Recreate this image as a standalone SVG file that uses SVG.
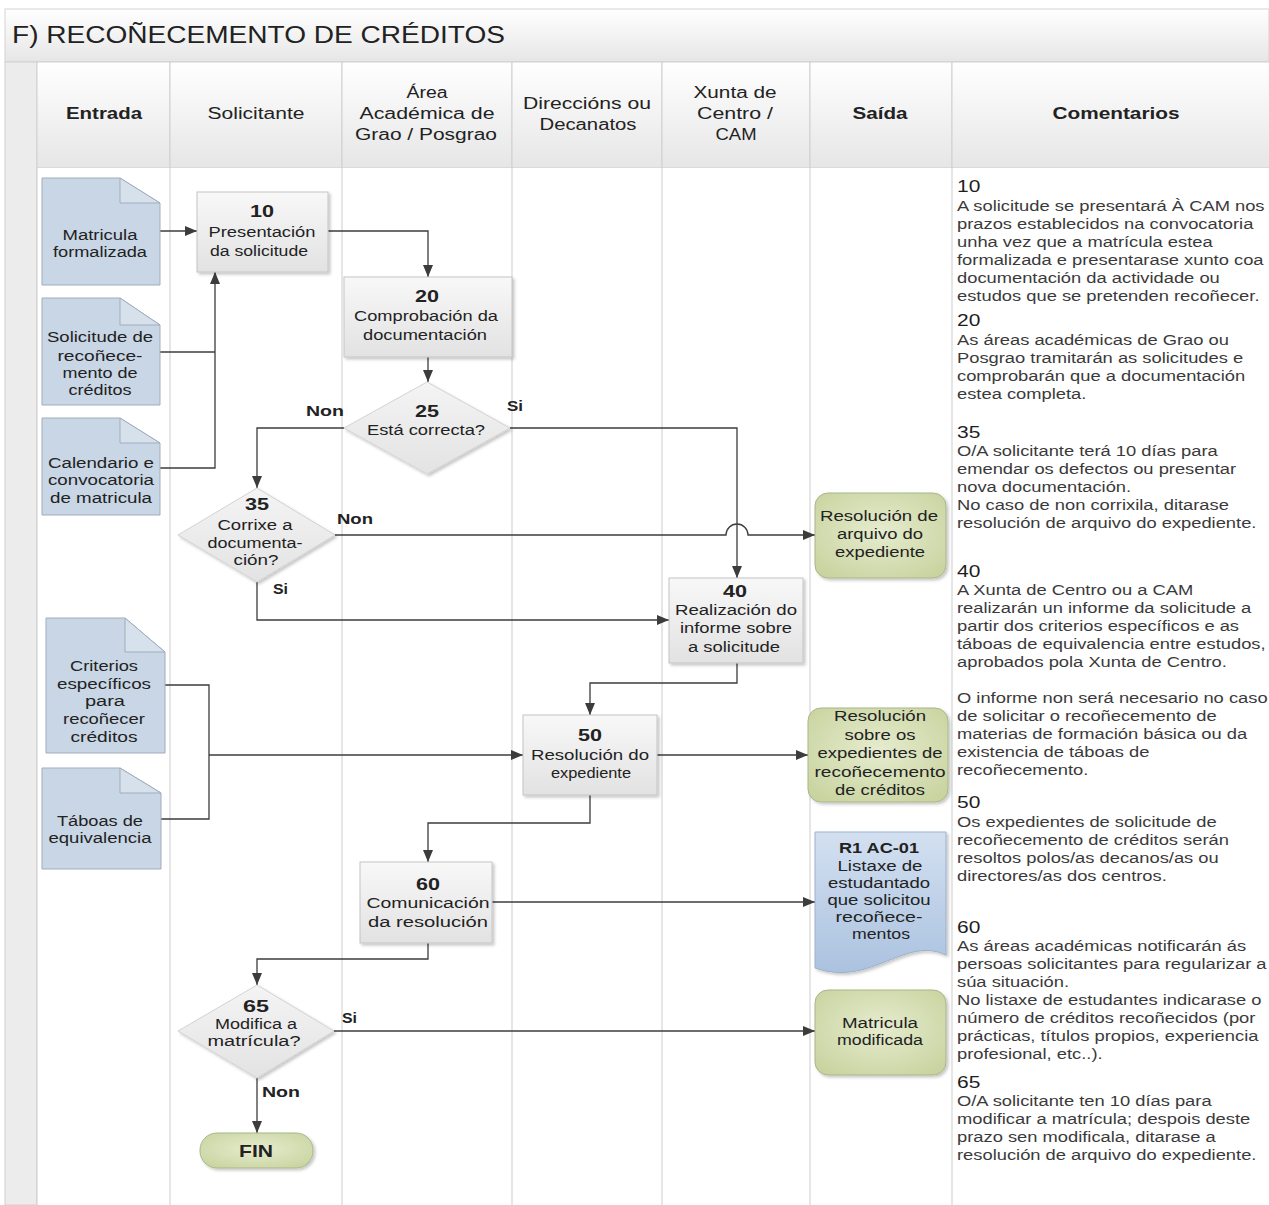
<svg xmlns="http://www.w3.org/2000/svg" width="1269" height="1205" viewBox="0 0 1269 1205">
<defs>
<linearGradient id="gHead" x1="0" y1="0" x2="0" y2="1"><stop offset="0" stop-color="#ffffff"/><stop offset="1" stop-color="#e6e6e6"/></linearGradient>
<linearGradient id="gProc" x1="0" y1="0" x2="0" y2="1"><stop offset="0" stop-color="#f8f8f8"/><stop offset="1" stop-color="#e2e2e2"/></linearGradient>
<linearGradient id="gDec" x1="0" y1="0" x2="0" y2="1"><stop offset="0" stop-color="#f4f4f4"/><stop offset="1" stop-color="#e3e3e3"/></linearGradient>
<radialGradient id="gGreen" cx="0.5" cy="0.45" r="0.7"><stop offset="0" stop-color="#e6ecce"/><stop offset="1" stop-color="#c7d29d"/></radialGradient>
<linearGradient id="gBlue" x1="0" y1="0" x2="0" y2="1"><stop offset="0" stop-color="#d3e0f1"/><stop offset="1" stop-color="#abc2df"/></linearGradient>
<filter id="sh" x="-10%" y="-10%" width="130%" height="130%"><feDropShadow dx="2" dy="2" stdDeviation="1.5" flood-color="#000" flood-opacity="0.22"/></filter>
<marker id="ar" markerUnits="userSpaceOnUse" markerWidth="12" markerHeight="10" refX="12" refY="5" orient="auto"><path d="M0,0 L12,5 L0,10 Z" fill="#3c3c3c"/></marker>
</defs>
<style>
text{font-family:"Liberation Sans",Arial,sans-serif;fill:#222}
.h{font-size:16px;text-anchor:middle}
.hb{font-size:16px;text-anchor:middle;font-weight:bold}
.n{font-size:14px;text-anchor:middle}
.nb{font-size:17px;text-anchor:middle;font-weight:bold}
.lb{font-size:15px;font-weight:bold}
.c{font-size:14px;fill:#3a3a3a}
.cn{font-size:16px;fill:#1e1e1e}
.lane{stroke:#cdcdcd;stroke-width:1;fill:none}
.hcell{fill:url(#gHead);stroke:#cfcfcf;stroke-width:1}
.doc{fill:#c8d6e5;stroke:#9fadbd;stroke-width:1}
.fold{fill:#d7e1ec;stroke:#9fadbd;stroke-width:1}
.proc{fill:url(#gProc);stroke:#c4c4c4;stroke-width:1;filter:url(#sh)}
.dec{fill:url(#gDec);stroke:#d2d2d2;stroke-width:1;filter:url(#sh)}
.out{fill:url(#gGreen);stroke:#a9b68a;stroke-width:1;filter:url(#sh)}
.rdoc{fill:url(#gBlue);stroke:#9db1ca;stroke-width:1;filter:url(#sh)}
.cn1{fill:none;stroke:#3c3c3c;stroke-width:1.3}
</style>
<rect x="0" y="0" width="1269" height="1205" fill="#ffffff"/>
<g id="frame">
<rect x="5" y="9" width="1264" height="53" fill="url(#gHead)" stroke="#d4d4d4"/>
<text x="12" y="43" style="font-size:23px" textLength="493" lengthAdjust="spacingAndGlyphs">F) RECOÑECEMENTO DE CRÉDITOS</text>
<rect x="5" y="62" width="32" height="1143" fill="#ececec" stroke="#d0d0d0"/>
<rect class="hcell" x="37" y="62" width="133" height="106"/>
<rect class="hcell" x="170" y="62" width="172" height="106"/>
<rect class="hcell" x="342" y="62" width="170" height="106"/>
<rect class="hcell" x="512" y="62" width="150" height="106"/>
<rect class="hcell" x="662" y="62" width="148" height="106"/>
<rect class="hcell" x="810" y="62" width="142" height="106"/>
<rect class="hcell" x="952" y="62" width="320" height="106"/>
<rect x="37" y="168" width="1235" height="1040" fill="#ffffff" stroke="none"/>
<path class="lane" d="M37,168 V1205 M170,168 V1205 M342,168 V1205 M512,168 V1205 M662,168 V1205 M810,168 V1205 M952,168 V1205"/>
<text class="hb" x="104" y="119" textLength="76" lengthAdjust="spacingAndGlyphs">Entrada</text>
<text class="h" x="256" y="119" textLength="97" lengthAdjust="spacingAndGlyphs">Solicitante</text>
<text class="h" x="427" y="98" textLength="41" lengthAdjust="spacingAndGlyphs">Área</text>
<text class="h" x="427" y="119" textLength="135" lengthAdjust="spacingAndGlyphs">Académica de</text>
<text class="h" x="426" y="140" textLength="142" lengthAdjust="spacingAndGlyphs">Grao / Posgrao</text>
<text class="h" x="587" y="109" textLength="128" lengthAdjust="spacingAndGlyphs">Direccións ou</text>
<text class="h" x="588" y="130" textLength="97" lengthAdjust="spacingAndGlyphs">Decanatos</text>
<text class="h" x="735" y="98" textLength="83" lengthAdjust="spacingAndGlyphs">Xunta de</text>
<text class="h" x="735" y="119" textLength="76" lengthAdjust="spacingAndGlyphs">Centro /</text>
<text class="h" x="736" y="140" textLength="41" lengthAdjust="spacingAndGlyphs">CAM</text>
<text class="hb" x="880" y="119" textLength="55" lengthAdjust="spacingAndGlyphs">Saída</text>
<text class="hb" x="1116" y="119" textLength="127" lengthAdjust="spacingAndGlyphs">Comentarios</text>
</g>
<g id="connectors">
<path class="cn1" d="M160,231 H197" marker-end="url(#ar)"/>
<path class="cn1" d="M160,352 H215"/>
<path class="cn1" d="M160,468 H215 V272" marker-end="url(#ar)"/>
<path class="cn1" d="M328,231 H428 V277" marker-end="url(#ar)"/>
<path class="cn1" d="M428,357 V382" marker-end="url(#ar)"/>
<path class="cn1" d="M344,428 H257 V488" marker-end="url(#ar)"/>
<path class="cn1" d="M510,428 H737 V578" marker-end="url(#ar)"/>
<path class="cn1" d="M335,535 H726 A11,11 0 0 1 748,535 H815" marker-end="url(#ar)"/>
<path class="cn1" d="M257,582 V620 H669" marker-end="url(#ar)"/>
<path class="cn1" d="M737,663 V683 H590 V715" marker-end="url(#ar)"/>
<path class="cn1" d="M165,685 H209 V819 H160"/>
<path class="cn1" d="M209,755 H523" marker-end="url(#ar)"/>
<path class="cn1" d="M657,755 H808" marker-end="url(#ar)"/>
<path class="cn1" d="M590,795 V823 H428 V862" marker-end="url(#ar)"/>
<path class="cn1" d="M492,902 H815" marker-end="url(#ar)"/>
<path class="cn1" d="M428,943 V959 H257 V985" marker-end="url(#ar)"/>
<path class="cn1" d="M334,1031 H815" marker-end="url(#ar)"/>
<path class="cn1" d="M257,1078 V1133" marker-end="url(#ar)"/>
<text class="lb" x="306" y="416" textLength="38" lengthAdjust="spacingAndGlyphs">Non</text>
<text class="lb" x="507" y="411" textLength="16" lengthAdjust="spacingAndGlyphs">Si</text>
<text class="lb" x="337" y="524" textLength="36" lengthAdjust="spacingAndGlyphs">Non</text>
<text class="lb" x="273" y="594" textLength="15" lengthAdjust="spacingAndGlyphs">Si</text>
<text class="lb" x="342" y="1023" textLength="15" lengthAdjust="spacingAndGlyphs">Si</text>
<text class="lb" x="262" y="1097" textLength="38" lengthAdjust="spacingAndGlyphs">Non</text>
</g>
<g id="in-matricula">
<path class="doc" d="M42,178 H120 L160,203 V285 H42 Z"/><path class="fold" d="M120,178 V203 H160 Z"/>
<text class="n" x="100" y="240" textLength="75" lengthAdjust="spacingAndGlyphs">Matricula</text>
<text class="n" x="100" y="257" textLength="94" lengthAdjust="spacingAndGlyphs">formalizada</text>
</g>
<g id="in-solicitude">
<path class="doc" d="M42,298 H120 L160,325 V405 H42 Z"/><path class="fold" d="M120,298 V325 H160 Z"/>
<text class="n" x="100" y="342" textLength="106" lengthAdjust="spacingAndGlyphs">Solicitude de</text>
<text class="n" x="100" y="361" textLength="85" lengthAdjust="spacingAndGlyphs">recoñece-</text>
<text class="n" x="100" y="378" textLength="75" lengthAdjust="spacingAndGlyphs">mento de</text>
<text class="n" x="100" y="395" textLength="63" lengthAdjust="spacingAndGlyphs">créditos</text>
</g>
<g id="in-calendario">
<path class="doc" d="M42,418 H120 L160,443 V515 H42 Z"/><path class="fold" d="M120,418 V443 H160 Z"/>
<text class="n" x="101" y="468" textLength="106" lengthAdjust="spacingAndGlyphs">Calendario e</text>
<text class="n" x="101" y="485" textLength="106" lengthAdjust="spacingAndGlyphs">convocatoria</text>
<text class="n" x="101" y="503" textLength="102" lengthAdjust="spacingAndGlyphs">de matricula</text>
</g>
<g id="in-criterios">
<path class="doc" d="M46,618 H125 L165,652 V753 H46 Z"/><path class="fold" d="M125,618 V652 H165 Z"/>
<text class="n" x="104" y="671" textLength="68" lengthAdjust="spacingAndGlyphs">Criterios</text>
<text class="n" x="104" y="689" textLength="94" lengthAdjust="spacingAndGlyphs">específicos</text>
<text class="n" x="105" y="706" textLength="40" lengthAdjust="spacingAndGlyphs">para</text>
<text class="n" x="104" y="724" textLength="82" lengthAdjust="spacingAndGlyphs">recoñecer</text>
<text class="n" x="104" y="742" textLength="67" lengthAdjust="spacingAndGlyphs">créditos</text>
</g>
<g id="in-taboas">
<path class="doc" d="M42,768 H120 L161,793 V869 H42 Z"/><path class="fold" d="M120,768 V793 H161 Z"/>
<text class="n" x="100" y="826" textLength="86" lengthAdjust="spacingAndGlyphs">Táboas de</text>
<text class="n" x="100" y="843" textLength="103" lengthAdjust="spacingAndGlyphs">equivalencia</text>
</g>
<g id="p10">
<rect class="proc" x="197" y="192" width="131" height="80"/>
<text class="nb" x="262" y="217" textLength="24" lengthAdjust="spacingAndGlyphs">10</text>
<text class="n" x="262" y="237" textLength="107" lengthAdjust="spacingAndGlyphs">Presentación</text>
<text class="n" x="259" y="256" textLength="98" lengthAdjust="spacingAndGlyphs">da solicitude</text>
</g>
<g id="p20">
<rect class="proc" x="344" y="277" width="168" height="80"/>
<text class="nb" x="427" y="302" textLength="24" lengthAdjust="spacingAndGlyphs">20</text>
<text class="n" x="426" y="321" textLength="144" lengthAdjust="spacingAndGlyphs">Comprobación da</text>
<text class="n" x="425" y="340" textLength="124" lengthAdjust="spacingAndGlyphs">documentación</text>
</g>
<g id="d25">
<polygon class="dec" points="427,382 510,428 427,474 344,428"/>
<text class="nb" x="427" y="417" textLength="24" lengthAdjust="spacingAndGlyphs">25</text>
<text class="n" x="426" y="435" textLength="118" lengthAdjust="spacingAndGlyphs">Está correcta?</text>
</g>
<g id="d35">
<polygon class="dec" points="257,488 335,535 257,582 178,535"/>
<text class="nb" x="257" y="510" textLength="24" lengthAdjust="spacingAndGlyphs">35</text>
<text class="n" x="255" y="530" textLength="75" lengthAdjust="spacingAndGlyphs">Corrixe a</text>
<text class="n" x="255" y="548" textLength="95" lengthAdjust="spacingAndGlyphs">documenta-</text>
<text class="n" x="256" y="565" textLength="45" lengthAdjust="spacingAndGlyphs">ción?</text>
</g>
<g id="p40">
<rect class="proc" x="669" y="578" width="134" height="85"/>
<text class="nb" x="735" y="597" textLength="24" lengthAdjust="spacingAndGlyphs">40</text>
<text class="n" x="736" y="615" textLength="122" lengthAdjust="spacingAndGlyphs">Realización do</text>
<text class="n" x="736" y="633" textLength="112" lengthAdjust="spacingAndGlyphs">informe sobre</text>
<text class="n" x="734" y="652" textLength="92" lengthAdjust="spacingAndGlyphs">a solicitude</text>
</g>
<g id="p50">
<rect class="proc" x="523" y="715" width="134" height="80"/>
<text class="nb" x="590" y="741" textLength="24" lengthAdjust="spacingAndGlyphs">50</text>
<text class="n" x="590" y="760" textLength="118" lengthAdjust="spacingAndGlyphs">Resolución do</text>
<text class="n" x="591" y="778" textLength="80" lengthAdjust="spacingAndGlyphs">expediente</text>
</g>
<g id="p60">
<rect class="proc" x="360" y="862" width="132" height="81"/>
<text class="nb" x="428" y="890" textLength="24" lengthAdjust="spacingAndGlyphs">60</text>
<text class="n" x="428" y="908" textLength="123" lengthAdjust="spacingAndGlyphs">Comunicación</text>
<text class="n" x="428" y="927" textLength="120" lengthAdjust="spacingAndGlyphs">da resolución</text>
</g>
<g id="d65">
<polygon class="dec" points="257,985 334,1031 257,1078 178,1031"/>
<text class="nb" x="256" y="1012" textLength="26" lengthAdjust="spacingAndGlyphs">65</text>
<text class="n" x="256" y="1029" textLength="82" lengthAdjust="spacingAndGlyphs">Modifica a</text>
<text class="n" x="254" y="1046" textLength="93" lengthAdjust="spacingAndGlyphs">matrícula?</text>
</g>
<g id="fin">
<rect class="out" x="200" y="1133" width="113" height="35" rx="17" ry="17"/>
<text class="nb" x="256" y="1157" textLength="34" lengthAdjust="spacingAndGlyphs">FIN</text>
</g>
<g id="out-arquivo">
<rect class="out" x="815" y="493" width="131" height="85" rx="13" ry="13"/>
<text class="n" x="879" y="521" textLength="118" lengthAdjust="spacingAndGlyphs">Resolución de</text>
<text class="n" x="880" y="539" textLength="86" lengthAdjust="spacingAndGlyphs">arquivo do</text>
<text class="n" x="880" y="557" textLength="90" lengthAdjust="spacingAndGlyphs">expediente</text>
</g>
<g id="out-resolucion">
<rect class="out" x="808" y="708" width="140" height="94" rx="13" ry="13"/>
<text class="n" x="880" y="721" textLength="92" lengthAdjust="spacingAndGlyphs">Resolución</text>
<text class="n" x="880" y="740" textLength="71" lengthAdjust="spacingAndGlyphs">sobre os</text>
<text class="n" x="880" y="758" textLength="125" lengthAdjust="spacingAndGlyphs">expedientes de</text>
<text class="n" x="880" y="777" textLength="131" lengthAdjust="spacingAndGlyphs">recoñecemento</text>
<text class="n" x="880" y="795" textLength="90" lengthAdjust="spacingAndGlyphs">de créditos</text>
</g>
<g id="out-r1">
<path class="rdoc" d="M815,832 H946 V955 C905,935 870,988 815,968 Z"/>
<text class="n" x="879" y="853" style="font-weight:bold" textLength="80" lengthAdjust="spacingAndGlyphs">R1 AC-01</text>
<text class="n" x="880" y="871" textLength="85" lengthAdjust="spacingAndGlyphs">Listaxe de</text>
<text class="n" x="879" y="888" textLength="102" lengthAdjust="spacingAndGlyphs">estudantado</text>
<text class="n" x="879" y="905" textLength="103" lengthAdjust="spacingAndGlyphs">que solicitou</text>
<text class="n" x="879" y="922" textLength="87" lengthAdjust="spacingAndGlyphs">recoñece-</text>
<text class="n" x="881" y="939" textLength="58" lengthAdjust="spacingAndGlyphs">mentos</text>
</g>
<g id="out-matricula">
<rect class="out" x="815" y="990" width="131" height="85" rx="13" ry="13"/>
<text class="n" x="880" y="1028" textLength="76" lengthAdjust="spacingAndGlyphs">Matricula</text>
<text class="n" x="880" y="1045" textLength="86" lengthAdjust="spacingAndGlyphs">modificada</text>
</g>
<g id="comments" transform="translate(957,0) scale(1.31,1)">
<text class="cn" x="0" y="192">10</text>
<text class="c" x="0" y="211">A solicitude se presentará À CAM nos</text>
<text class="c" x="0" y="229">prazos establecidos na convocatoria</text>
<text class="c" x="0" y="247">unha vez que a matrícula estea</text>
<text class="c" x="0" y="265">formalizada e presentarase xunto coa</text>
<text class="c" x="0" y="283">documentación da actividade ou</text>
<text class="c" x="0" y="301">estudos que se pretenden recoñecer.</text>
<text class="cn" x="0" y="326">20</text>
<text class="c" x="0" y="345">As áreas académicas de Grao ou</text>
<text class="c" x="0" y="363">Posgrao tramitarán as solicitudes e</text>
<text class="c" x="0" y="381">comprobarán que a documentación</text>
<text class="c" x="0" y="399">estea completa.</text>
<text class="cn" x="0" y="438">35</text>
<text class="c" x="0" y="456">O/A solicitante terá 10 días para</text>
<text class="c" x="0" y="474">emendar os defectos ou presentar</text>
<text class="c" x="0" y="492">nova documentación.</text>
<text class="c" x="0" y="510">No caso de non corrixila, ditarase</text>
<text class="c" x="0" y="528">resolución de arquivo do expediente.</text>
<text class="cn" x="0" y="577">40</text>
<text class="c" x="0" y="595">A Xunta de Centro ou a CAM</text>
<text class="c" x="0" y="613">realizarán un informe da solicitude a</text>
<text class="c" x="0" y="631">partir dos criterios específicos e as</text>
<text class="c" x="0" y="649">táboas de equivalencia entre estudos,</text>
<text class="c" x="0" y="667">aprobados pola Xunta de Centro.</text>
<text class="c" x="0" y="703">O informe non será necesario no caso</text>
<text class="c" x="0" y="721">de solicitar o recoñecemento de</text>
<text class="c" x="0" y="739">materias de formación básica ou da</text>
<text class="c" x="0" y="757">existencia de táboas de</text>
<text class="c" x="0" y="775">recoñecemento.</text>
<text class="cn" x="0" y="808">50</text>
<text class="c" x="0" y="827">Os expedientes de solicitude de</text>
<text class="c" x="0" y="845">recoñecemento de créditos serán</text>
<text class="c" x="0" y="863">resoltos polos/as decanos/as ou</text>
<text class="c" x="0" y="881">directores/as dos centros.</text>
<text class="cn" x="0" y="933">60</text>
<text class="c" x="0" y="951">As áreas académicas notificarán ás</text>
<text class="c" x="0" y="969">persoas solicitantes para regularizar a</text>
<text class="c" x="0" y="987">súa situación.</text>
<text class="c" x="0" y="1005">No listaxe de estudantes indicarase o</text>
<text class="c" x="0" y="1023">número de créditos recoñecidos (por</text>
<text class="c" x="0" y="1041">prácticas, títulos propios, experiencia</text>
<text class="c" x="0" y="1059">profesional, etc..).</text>
<text class="cn" x="0" y="1088">65</text>
<text class="c" x="0" y="1106">O/A solicitante ten 10 días para</text>
<text class="c" x="0" y="1124">modificar a matrícula; despois deste</text>
<text class="c" x="0" y="1142">prazo sen modificala, ditarase a</text>
<text class="c" x="0" y="1160">resolución de arquivo do expediente.</text>
</g>
</svg>
